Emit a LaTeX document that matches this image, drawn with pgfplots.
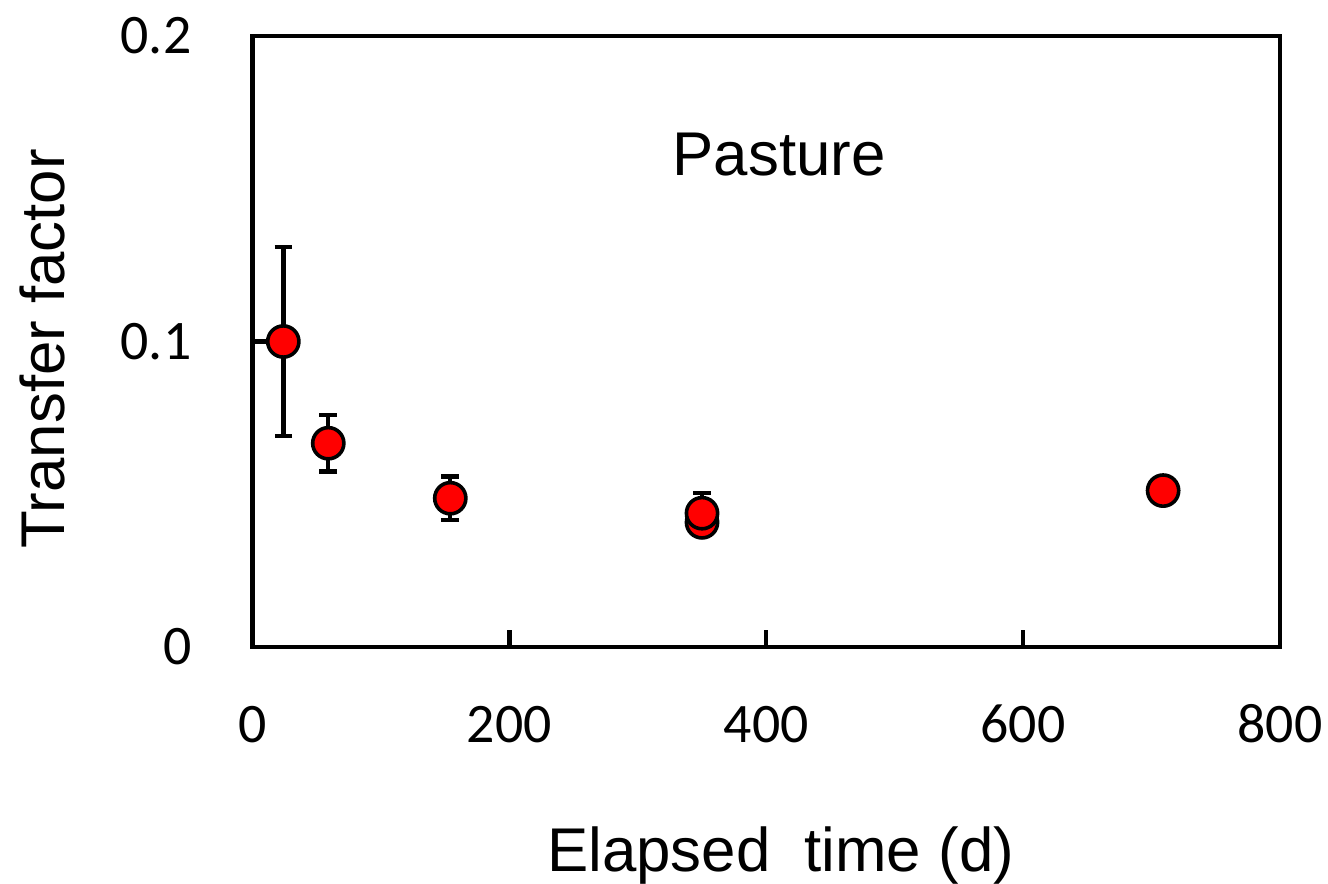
\documentclass[border=0pt]{standalone}
\usepackage{fontspec}
\setmainfont{Liberation Sans}
\newfontfamily\tickfont{Carlito}
\usepackage{pgfplots}
\pgfplotsset{compat=1.18}
\pgfplotstableread{
x y e
24 0.100 0.031
59 0.0667 0.0093
154 0.0487 0.0071
}\dataA
\pgfplotstableread{
x y e
350 0.0408 0.0
}\dataB
\pgfplotstableread{
x y e
350 0.0438 0.0067
}\dataC
\pgfplotstableread{
x y e
709 0.0512 0.0
}\dataD
\begin{document}
\begin{tikzpicture}
\begin{axis}[
  scale only axis,
  width=256.875bp, height=152.75bp,
  xmin=0, xmax=800, ymin=0, ymax=0.2,
  xtick={0,200,400,600,800},
  xticklabels={0,200,400,600,800},
  ytick={0,0.1,0.2},
  yticklabels={0,0.1,0.2},
  scaled y ticks=false,
  tick pos=left,
  tick align=inside,
  major tick length=4.25bp,
  axis line style={line width=1.2bp},
  every tick/.style={black, line width=1.1bp},
  tick label style={font=\tickfont\fontsize{14}{16}\selectfont, inner sep=0pt},
  xticklabel style={anchor=base, yshift=-23.75bp},
  yticklabel style={anchor=east, xshift=-15.1bp},
  label style={font=\fontsize{15.5}{18}\selectfont},
  xlabel={Elapsed~~time (d)},
  ylabel={Transfer factor},
  xlabel style={at={(axis description cs:0.514,-0.368)}, anchor=base},
  ylabel style={at={(axis description cs:-0.1825,0.488)}, anchor=base},
  clip=false,
  every axis plot/.append style={
    only marks, mark=*, mark size=3.9bp,
    mark options={fill=red, draw=black, line width=0.9bp},
    error bars/y dir=both, error bars/y explicit,
    error bars/error bar style={black, line width=1.1bp},
    error bars/error mark options={rotate=90, mark size=2.2bp, line width=1.1bp, black},
  },
]
\addplot[] table[x=x, y=y, y error=e] {\dataA};
\addplot[] table[x=x, y=y, y error=e] {\dataB};
\addplot[] table[x=x, y=y, y error=e] {\dataC};
\addplot[] table[x=x, y=y, y error=e] {\dataD};
\node[anchor=base, font=\fontsize{15.5}{18}\selectfont] at (axis cs:410,0.1545) {Pasture};
\coordinate (bl) at (rel axis cs:0,0);
\end{axis}
\pgfresetboundingbox
\path[use as bounding box] (bl) ++(-63.125bp,-59.25bp) rectangle ++(332bp,221bp);
\end{tikzpicture}
\end{document}
